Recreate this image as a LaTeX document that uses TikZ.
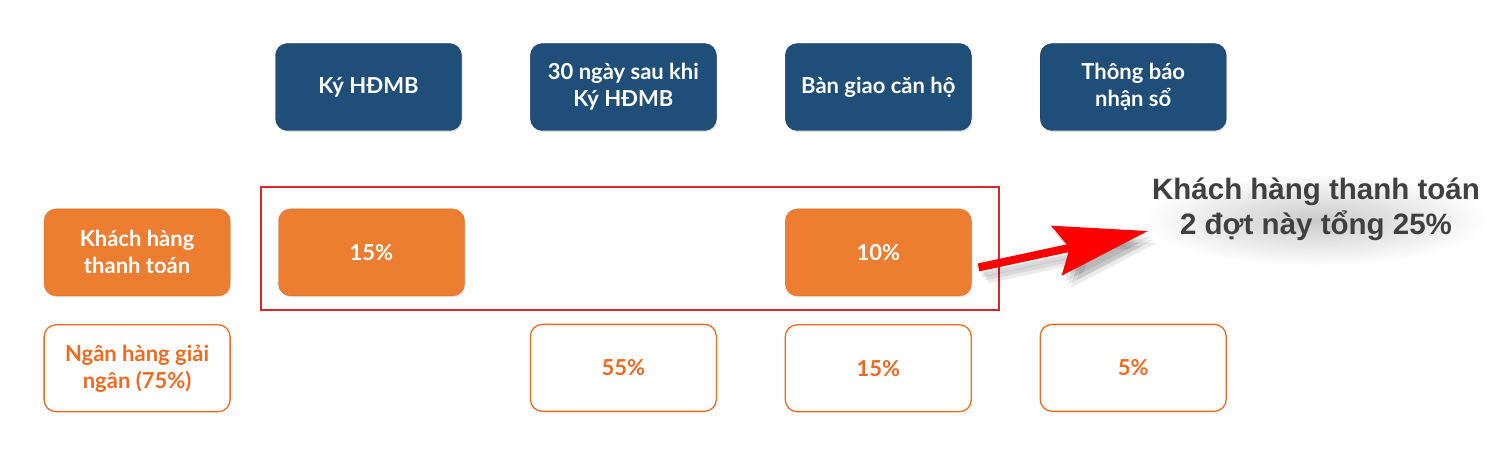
\documentclass[tikz,border=0pt]{standalone}
\usepackage{fontspec}
\setmainfont{Lato}
\newfontfamily\notefont{Liberation Sans}
\usetikzlibrary{positioning, arrows.meta, calc, shadows, fadings}
\definecolor{stageblue}{HTML}{1F4E79}
\definecolor{payorange}{HTML}{ED7D31}
\definecolor{bankorange}{HTML}{F0691F}
\definecolor{framered}{HTML}{D9262B}
\definecolor{notegray}{HTML}{404040}
\tikzfading[name=softglow, inner color=transparent!20, outer color=transparent!100]

\begin{document}
\begin{tikzpicture}[
    x=1pt, y=1pt,
    node distance=68.5pt,
    box/.style={rounded corners=12pt, minimum width=186pt, minimum height=87pt, align=center, inner sep=2pt,
        font=\fontsize{22}{27}\selectfont\bfseries},
    stage/.style={box, fill=stageblue, draw=stageblue!80!black,
        drop shadow={opacity=0.25, shadow xshift=1pt, shadow yshift=-1.5pt}, text=white},
    pay/.style={box, fill=payorange, draw=payorange!90!black,
        drop shadow={opacity=0.2, shadow xshift=1pt, shadow yshift=-1.5pt}, text=white},
    bank/.style={box, draw=bankorange, line width=1.3pt, fill=white, text=bankorange},
    notetext/.style={align=center, font=\notefont\bfseries\fontsize{29.5}{35}\selectfont}
]
\useasboundingbox (0,0) rectangle (1500,-457);

% milestones
\node[stage] (sign) at (368.5,-87) {Ký HĐMB};
\node[stage, right=of sign] (after30) {30 ngày sau khi\\Ký HĐMB};
\node[stage, right=of after30] (handover) {Bàn giao căn hộ};
\node[stage, right=of handover] (booklet) {Thông báo\\nhận sổ};

% customer payments
\node[pay, below=78pt of sign, xshift=3pt] (pay15) {15\%};
\node[pay, below=78pt of handover] (pay10) {10\%};
\node[pay, left=48pt of pay15] (paylabel) {Khách hàng\\thanh toán};

% bank disbursements
\node[bank, below=28pt of paylabel] (banklabel) {Ngân hàng giải\\ngân (75\%)};
\node[bank, below=193pt of after30] (bank55) {55\%};
\node[bank, below=28pt of pay10] (bank15) {15\%};
\node[bank, below=193pt of booklet] (bank5) {5\%};

\draw[framered, line width=2pt] ($(pay15.north west)+(-17,22)$) rectangle ($(pay10.south east)+(27,-14)$);

% note with soft shadow
\fill[black, opacity=0.26, path fading=softglow] (1316,-220) ellipse [x radius=172, y radius=46];
\node[notetext, text=notegray] (note) at (1316,-209) {Khách hàng thanh toán\\2 đợt này tổng 25\%};

\coordinate (arrowstart) at ($(pay10.east)+(7,-15)$);
\coordinate (arrowtip) at (1148,-231);
\foreach \dx/\dy in {3/-6, 6/-9, 9/-12}
    \draw[-{Stealth[length=93pt, width=50pt, inset=13pt]}, line width=8pt, black, opacity=0.08]
        ([shift={(\dx,\dy)}]arrowstart) -- ([shift={(\dx,\dy)}]arrowtip);
\draw[-{Stealth[length=93pt, width=50pt, inset=13pt]}, line width=8pt, red] (arrowstart) -- (arrowtip);

\end{tikzpicture}
\end{document}
